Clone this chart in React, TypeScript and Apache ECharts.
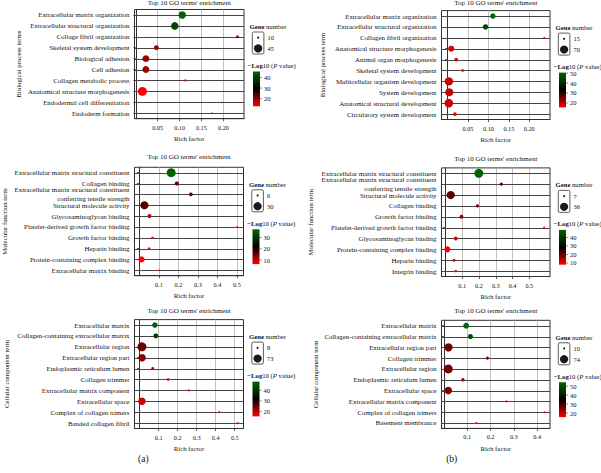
import React, { useEffect, useRef } from "react";
import * as echarts from "echarts";

// ---------------- data ----------------
// (a) Biological process
const bpA_terms = [
  "Extracellular matrix organization",
  "Extracellular structural organization",
  "Collage fibril organization",
  "Skeletal system development",
  "Biological adhesion",
  "Cell adhesion",
  "Collagen metabolic process",
  "Anatomical structure morphogenesis",
  "Endodermal cell differentiation",
  "Endoderm formation",
];
const bpA_rich = [0.106, 0.089, 0.232, 0.047, 0.023, 0.023, 0.113, 0.015, 0.196, 0.173];
const bpA_genes = [39, 39, 12, 21, 34, 34, 10, 52, 8, 8];
const bpA_logp = [45.7, 40.7, 20.3, 19, 19.5, 19, 14.7, 12.7, 13, 12.8];
const bpA_xRange = [-0.003, 0.247];
const bpA_xTicks = [0.05, 0.1, 0.15, 0.2];
const bpA_sizeLegend = [10, 45];
const bpA_colorRange = [12.7, 45.7];
const bpA_colorTicks = [40, 30, 20];

// (a) Molecular function
const mfA_terms = [
  "Extracellular matrix structural constituent",
  "Collagen binding",
  "Extracellular matrix structural constituent\nconferring tensile strength",
  "Structural molecule activity",
  "Glycosaminoglycan binding",
  "Platelet-derived growth factor binding",
  "Growth factor binding",
  "Heparin binding",
  "Protein-containing complex binding",
  "Extracellular matrix binding",
];
const mfA_rich = [0.163, 0.192, 0.264, 0.026, 0.052, 0.5, 0.067, 0.05, 0.011, 0.1];
const mfA_genes = [35, 11, 10, 30, 11, 5, 7, 7, 19, 5];
const mfA_logp = [37.3, 15.4, 15.7, 16.6, 10.1, 7, 8, 8, 6.4, 7];
const mfA_xRange = [-0.025, 0.534];
const mfA_xTicks = [0.1, 0.2, 0.3, 0.4, 0.5];
const mfA_sizeLegend = [6, 30];
const mfA_colorRange = [6.4, 37.3];
const mfA_colorTicks = [30, 20, 10];

// (a) Cellular component
const ccA_terms = [
  "Extracellular matrix",
  "Collagen-containing extracellular matrix",
  "Extracellular region",
  "Extracellular region part",
  "Endoplasmic reticulum lumen",
  "Collagen trimmer",
  "Extracellular matrix component",
  "Extracellular space",
  "Complex of collagen trimers",
  "Banded collagen fibril",
];
const ccA_rich = [0.08, 0.085, 0.012, 0.013, 0.069, 0.15, 0.259, 0.012, 0.418, 0.515];
const ccA_genes = [34, 28, 86, 61, 13, 11, 9, 61, 8, 8];
const ccA_logp = [48.3, 41.7, 25, 23, 20.3, 18.7, 17.5, 18.7, 16, 15.4];
const ccA_xRange = [-0.027, 0.546];
const ccA_xTicks = [0.1, 0.2, 0.3, 0.4, 0.5];
const ccA_sizeLegend = [8, 73];
const ccA_colorRange = [15.4, 48.3];
const ccA_colorTicks = [40, 30, 20];

// (b) Biological process
const bpB_terms = [
  "Extracellular matrix organization",
  "Extracellular structural organization",
  "Collagen fibril organization",
  "Anatomical structure morphogenesis",
  "Animal organ morphogenesis",
  "Skeletal system development",
  "Multicellular organism development",
  "System development",
  "Anatomical structural development",
  "Circulatory system development",
];
const bpB_rich = [0.111, 0.093, 0.237, 0.009, 0.021, 0.037, 0.003, 0.004, 0.003, 0.018];
const bpB_genes = [37, 37, 14, 44, 24, 18, 72, 70, 76, 24];
const bpB_logp = [50.5, 45, 17, 18, 17, 16, 19, 19, 19, 16];
const bpB_xRange = [-0.015, 0.251];
const bpB_xTicks = [0.05, 0.1, 0.15, 0.2];
const bpB_sizeLegend = [15, 70];
const bpB_colorRange = [15.5, 50.5];
const bpB_colorTicks = [50, 40, 30, 20];

// (b) Molecular function
const mfB_terms = [
  "Extracellular matrix structural constituent",
  "Extracellular matrix structural constituent\nconferring tensile strength",
  "Structural molecule activity",
  "Collagen binding",
  "Growth factor binding",
  "Platelet-derived growth factor binding",
  "Glycosaminoglycan binding",
  "Protein-containing complex binding",
  "Heparin binding",
  "Integrin binding",
];
const mfB_rich = [0.199, 0.333, 0.032, 0.191, 0.096, 0.588, 0.062, 0.012, 0.052, 0.062];
const mfB_genes = [42, 10, 36, 10, 12, 7, 12, 22, 9, 8];
const mfB_logp = [48.8, 19.8, 21.5, 17.4, 15.8, 9, 11, 8, 10, 9];
const mfB_xRange = [-0.023, 0.623];
const mfB_xTicks = [0.1, 0.2, 0.3, 0.4, 0.5];
const mfB_sizeLegend = [7, 36];
const mfB_colorRange = [8, 48.8];
const mfB_colorTicks = [40, 30, 20, 10];

// (b) Cellular component
const ccB_terms = [
  "Extracellular matrix",
  "Collagen-containing extracellular matrix",
  "Extracellular region part",
  "Collagen trimmer",
  "Extracellular region",
  "Endoplasmic reticulum lumen",
  "Extracellular space",
  "Extracellular matrix component",
  "Complex of collagen trimers",
  "Basement membrance",
];
const ccB_rich = [0.096, 0.114, 0.02, 0.187, 0.019, 0.082, 0.019, 0.268, 0.431, 0.14];
const ccB_genes = [40, 32, 74, 15, 86, 17, 63, 11, 9, 10];
const ccB_logp = [54.2, 50, 26, 24, 26, 23, 25, 17, 16, 15.5];
const ccB_xRange = [-0.01, 0.455];
const ccB_xTicks = [0.1, 0.2, 0.3, 0.4];
const ccB_sizeLegend = [10, 74];
const ccB_colorRange = [15.5, 54.2];
const ccB_colorTicks = [50, 40, 30, 20];

const TITLE = "Top 10 GO terms' enrichment";
const X_NAME = "Rich factor";
const PANEL_LETTERS = ["(a)", "(b)"];

// ---------------- style ----------------
const FONT = "'Liberation Serif', 'Times New Roman', Times, serif";
const LOW = "#ff0000";
const MID = "#000000";
const HIGH = "#006400";
const TXT = "#111";
const HLINE = "#444444";

function dotSize(n: number, legend: number[]) {
  const [n0, n1] = legend;
  const d0 = 2, d1 = 8.2;
  const a = d0 * d0 + ((d1 * d1 - d0 * d0) * (n - n0)) / (n1 - n0);
  return Math.sqrt(Math.max(a, 2.3));
}

const panels = [
  { terms: bpA_terms, rich: bpA_rich, genes: bpA_genes, logp: bpA_logp, xRange: bpA_xRange, xTicks: bpA_xTicks, sizeLegend: bpA_sizeLegend, colorRange: bpA_colorRange, colorTicks: bpA_colorTicks, yName: "Biological process terms", dec: 2,
    box: { left: 134.5, right: 244, top: 9.5, height: 109.2, titleY: 3, yNameX: 18.3 } },
  { terms: mfA_terms, rich: mfA_rich, genes: mfA_genes, logp: mfA_logp, xRange: mfA_xRange, xTicks: mfA_xTicks, sizeLegend: mfA_sizeLegend, colorRange: mfA_colorRange, colorTicks: mfA_colorTicks, yName: "Molecular function term", dec: 1,
    box: { left: 134.5, right: 243.5, top: 167.3, height: 108.4, titleY: 157.3, yNameX: 4.5 } },
  { terms: ccA_terms, rich: ccA_rich, genes: ccA_genes, logp: ccA_logp, xRange: ccA_xRange, xTicks: ccA_xTicks, sizeLegend: ccA_sizeLegend, colorRange: ccA_colorRange, colorTicks: ccA_colorTicks, yName: "Cellular component term", dec: 1,
    box: { left: 134.5, right: 243.5, top: 319.6, height: 108.9, titleY: 311, yNameX: 6.5 } },
  { terms: bpB_terms, rich: bpB_rich, genes: bpB_genes, logp: bpB_logp, xRange: bpB_xRange, xTicks: bpB_xTicks, sizeLegend: bpB_sizeLegend, colorRange: bpB_colorRange, colorTicks: bpB_colorTicks, yName: "Biological process term", dec: 2,
    box: { left: 441.5, right: 550, top: 10.6, height: 108.9, titleY: 3.3, yNameX: 322.7 } },
  { terms: mfB_terms, rich: mfB_rich, genes: mfB_genes, logp: mfB_logp, xRange: mfB_xRange, xTicks: mfB_xTicks, sizeLegend: mfB_sizeLegend, colorRange: mfB_colorRange, colorTicks: mfB_colorTicks, yName: "Molecular function term", dec: 1,
    box: { left: 441.5, right: 550, top: 167.9, height: 108.6, titleY: 159.3, yNameX: 310 } },
  { terms: ccB_terms, rich: ccB_rich, genes: ccB_genes, logp: ccB_logp, xRange: ccB_xRange, xTicks: ccB_xTicks, sizeLegend: ccB_sizeLegend, colorRange: ccB_colorRange, colorTicks: ccB_colorTicks, yName: "Cellular component term", dec: 1,
    box: { left: 441.5, right: 550, top: 320.3, height: 108.1, titleY: 311, yNameX: 315 } },
];

function txt(x: number, y: number, text: string, size: number, extra: any = {}, elProps: any = {}) {
  return {
    type: "text",
    x,
    y,
    silent: true,
    ...elProps,
    style: { text, fontSize: size, fontFamily: FONT, fill: TXT, align: "left", verticalAlign: "middle", ...extra },
  };
}

export default function App() {
  const ref = useRef<HTMLDivElement>(null);
  useEffect(() => {
    const chart = echarts.init(ref.current!, null, { renderer: "svg" });
    const grid: any[] = [];
    const xAxis: any[] = [];
    const yAxis: any[] = [];
    const series: any[] = [];
    const visualMap: any[] = [];
    const graphic: any[] = [];

    panels.forEach((p, i) => {
      const b = p.box;
      const W = b.right - b.left;
      grid.push({ left: b.left, top: b.top, width: W, height: b.height, show: true, borderColor: "#333", borderWidth: 1, backgroundColor: "#fff" });
      xAxis.push({
        gridIndex: i,
        type: "value",
        min: p.xRange[0],
        max: p.xRange[1],
        axisLine: { show: true, lineStyle: { color: "#333", width: 1 } },
        axisTick: { show: true, length: 2.5, customValues: p.xTicks, lineStyle: { color: "#333", width: 0.8 } },
        axisLabel: { customValues: p.xTicks, formatter: (v: number) => v.toFixed(p.dec), fontSize: 6.2, fontFamily: FONT, color: TXT, margin: 5.5 },
        splitLine: { show: true, lineStyle: { color: "#b0b0b0", width: 0.8 } },
      });
      yAxis.push({
        gridIndex: i,
        type: "category",
        position: "left",
        data: p.terms,
        inverse: true,
        axisLine: { show: true, lineStyle: { color: "#333", width: 1 } },
        axisTick: { show: true, alignWithLabel: true, interval: 0, length: 2.5, lineStyle: { color: "#333", width: 0.8 } },
        axisLabel: { fontSize: 6.9, fontFamily: FONT, color: TXT, margin: 5, lineHeight: 9, interval: 0 },
        splitLine: { show: false },
      });
      series.push({
        type: "scatter",
        xAxisIndex: i,
        yAxisIndex: i,
        data: p.terms.map((t, k) => [p.rich[k], t, p.genes[k], p.logp[k]]),
        symbolSize: (v: any[]) => dotSize(v[2], p.sizeLegend),
        itemStyle: { opacity: 1 },
        silent: true,
        z: 101,
      });
      visualMap.push({
        type: "continuous",
        show: false,
        seriesIndex: i,
        dimension: 3,
        min: p.colorRange[0],
        max: p.colorRange[1],
        inRange: { color: [LOW, MID, HIGH] },
      });

      const cx = (b.left + b.right) / 2;
      const bottom = b.top + b.height;
      graphic.push(txt(cx, b.titleY, TITLE, 7, { align: "center" }));
      graphic.push(txt(cx, bottom + 19.8, X_NAME, 6.8, { align: "center" }));
      graphic.push(txt(b.yNameX, b.top + b.height / 2, p.yName, 6.8, { align: "center", x: 0, y: 0 }, { rotation: Math.PI / 2 }));

      // size legend
      const R = b.right;
      graphic.push(txt(R + 5.5, b.top + 17, "{b|Gene} number", 6.7, {
        rich: { b: { fontWeight: "bold", fontSize: 6.7, fontFamily: FONT, fill: TXT } },
      }));
      graphic.push({
        type: "rect",
        silent: true,
        shape: { x: R + 8.3, y: b.top + 22.5, width: 11.6, height: 22, r: 1.5 },
        style: { fill: "#fff", stroke: "#333", lineWidth: 0.8 },
      });
      const keyY = [b.top + 28.2, b.top + 38.9];
      p.sizeLegend.forEach((g, k) => {
        graphic.push({
          type: "circle",
          silent: true,
          shape: { cx: R + 14.1, cy: keyY[k], r: dotSize(g, p.sizeLegend) / 2 },
          style: { fill: "#1a1a1a" },
        });
        graphic.push(txt(R + 23.5, keyY[k], String(g), 6.5));
      });

      // color legend
      graphic.push(txt(R + 3.8, b.top + 56, "{b|\u2212Log}10 ({i|P} value)", 6.7, {
        rich: {
          b: { fontWeight: "bold", fontSize: 6.7, fontFamily: FONT, fill: TXT },
          i: { fontStyle: "italic", fontSize: 6.7, fontFamily: FONT, fill: TXT },
        },
      }));
      const barTop = b.top + 62;
      const barBot = b.top + 96.8;
      const barL = R + 9;
      const barW = 7;
      graphic.push({
        type: "rect",
        silent: true,
        shape: { x: barL, y: barTop, width: barW, height: barBot - barTop },
        style: {
          fill: {
            type: "linear", x: 0, y: 0, x2: 0, y2: 1,
            colorStops: [
              { offset: 0, color: HIGH },
              { offset: 0.5, color: MID },
              { offset: 1, color: LOW },
            ],
          },
        },
      });
      const [cmin, cmax] = p.colorRange;
      p.colorTicks.forEach((v) => {
        const y = barTop + ((cmax - v) / (cmax - cmin)) * (barBot - barTop);
        graphic.push({
          type: "line",
          silent: true,
          shape: { x1: barL + barW + 0.3, y1: y, x2: barL + barW + 2, y2: y },
          style: { stroke: "#555", lineWidth: 0.8 },
        });
        graphic.push(txt(barL + barW + 4, y, String(v), 6.5));
      });
    });

    graphic.push(txt(143.3, 458.5, PANEL_LETTERS[0], 9.5, { align: "center" }));
    graphic.push(txt(451.7, 458.5, PANEL_LETTERS[1], 9.5, { align: "center" }));

    chart.setOption({
      animation: false,
      backgroundColor: "#fff",
      grid,
      xAxis,
      yAxis,
      series,
      visualMap,
    });

    // a row line through each term, placed with the chart's own axes
    const rowLines: any[] = [];
    panels.forEach((p, i) => {
      const b = p.box;
      p.terms.forEach((t, k) => {
        const pt = chart.convertToPixel({ seriesIndex: i } as any, [p.rich[k], t]) as any;
        if (!pt || !isFinite(pt[1])) return;
        const y = Math.round(pt[1]) + 0.5;
        rowLines.push({
          type: "rect",
          silent: true,
          z: 100,
          shape: { x: b.left, y: y - 0.55, width: b.right - b.left, height: 1.1 },
          style: { fill: HLINE },
        });
      });
    });

    chart.setOption({ graphic: [...rowLines, ...graphic] });
    return () => chart.dispose();
  }, []);
  return (
    <div
      ref={ref}
      style={{ position: "fixed", left: 0, top: 0, width: 601, height: 473, background: "#fff" }}
    />
  );
}
